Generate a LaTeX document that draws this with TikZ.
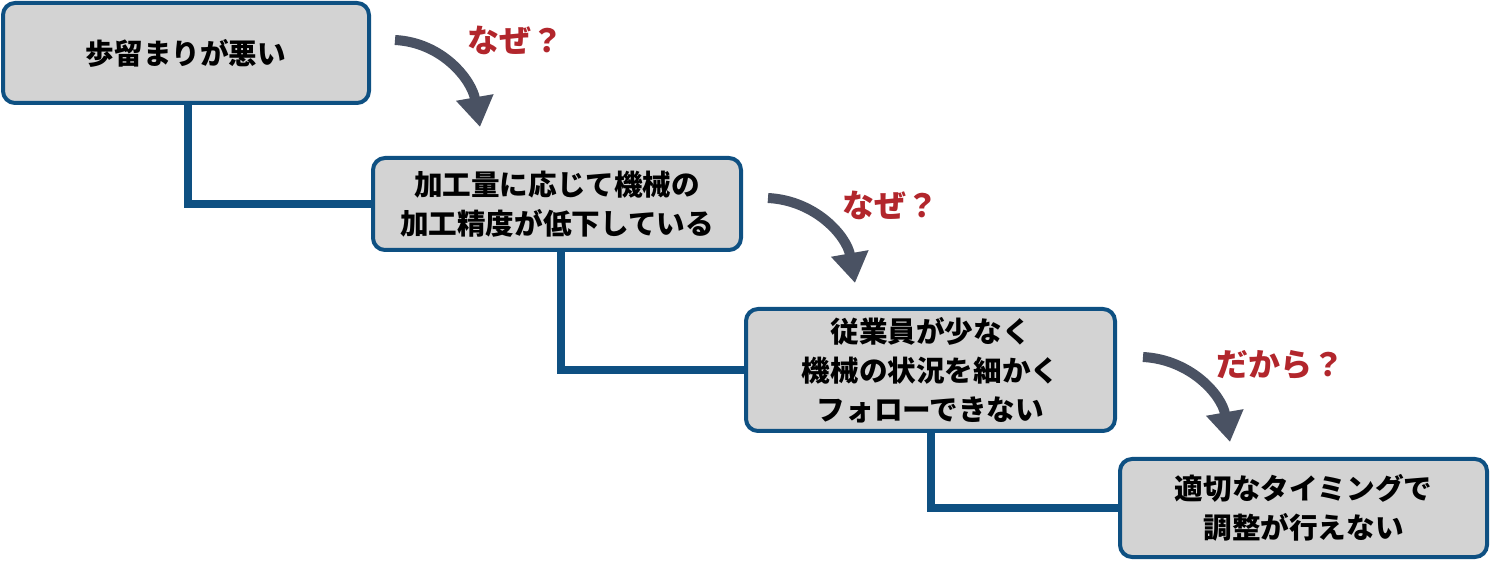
\documentclass[tikz,border=0pt]{standalone}
\usepackage{fontspec}
\newfontfamily\jp{Noto Sans CJK JP}
\usetikzlibrary{arrows.meta}
\definecolor{cline}{RGB}{14, 80, 130}
\definecolor{cbox}{RGB}{211, 211, 211}
\definecolor{carrow}{RGB}{74, 82, 99}
\definecolor{cred}{RGB}{178, 38, 44}

\begin{document}
\begin{tikzpicture}[x=0.5pt,y=-0.5pt,
  causebox/.style={draw=cline,line width=2pt,fill=cbox,rounded corners=6pt,align=center,
    inner sep=0pt,font=\jp\bfseries\fontsize{14.3}{19.5}\selectfont},
  link/.style={draw=cline,line width=4pt},
  why/.style={draw=carrow,line width=5pt,-{Triangle[length=15pt,width=18pt]}},
  whytext/.style={text=cred,font=\jp\bfseries\fontsize{16}{18}\selectfont}]
\useasboundingbox (0,0) rectangle (1490,561);

% boxes
\node[causebox,minimum width=183pt,minimum height=50pt] (b1) at (186,53) {歩留まりが悪い};
\node[causebox,minimum width=184pt,minimum height=46pt] (b2) at (557,204) {加工量に応じて機械の\\加工精度が低下している};
\node[causebox,minimum width=184.5pt,minimum height=61pt] (b3) at (930.5,370) {従業員が少なく\\機械の状況を細かく\\フォローできない};
\node[causebox,minimum width=183.5pt,minimum height=49pt] (b4) at (1303.5,508) {適切なタイミングで\\調整が行えない};

% links
\foreach \a/\b/\dx in {b1/b2/1pt,b2/b3/2pt,b3/b4/0pt}
  \draw[link] ([xshift=\dx]\a.south) |- (\b.west);

% questions
\foreach \i/\sx/\sy/\tx/\ty/\lx/\ly/\txt in {
  1/395/40/480/127/515/40/なぜ？,
  2/768/198/855/283/890/205/なぜ？,
  3/1143/357/1230/442/1280/365/だから？}{
  \coordinate (s\i) at (\sx,\sy);
  \coordinate (t\i) at (\tx,\ty);
  \draw[why] (s\i) to[out=-3,in=100] (t\i);
  \node[whytext] (q\i) at (\lx,\ly) {\txt};
}

\end{tikzpicture}
\end{document}
